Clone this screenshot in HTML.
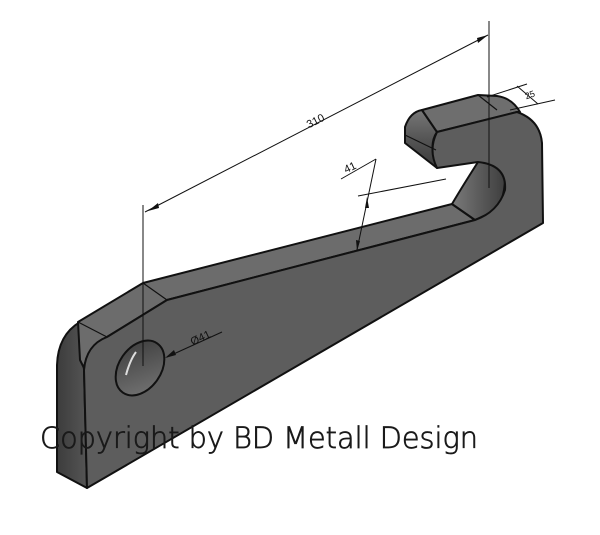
<!DOCTYPE html>
<html><head><meta charset="utf-8"><style>
html,body{margin:0;padding:0;background:#fff;}
svg{display:block;}
</style></head><body>
<svg width="600" height="535" viewBox="0 0 600 535" xmlns="http://www.w3.org/2000/svg">
<defs>
<linearGradient id="endg" x1="0" y1="0" x2="1" y2="0">
<stop offset="0" stop-color="#3c3c3c"/><stop offset="1" stop-color="#555"/></linearGradient>
<linearGradient id="hookend" x1="0" y1="0" x2="0" y2="1">
<stop offset="0" stop-color="#777"/><stop offset="0.5" stop-color="#555"/><stop offset="1" stop-color="#3a3a3a"/></linearGradient>
<linearGradient id="slot" x1="0" y1="0" x2="1" y2="0">
<stop offset="0" stop-color="#7a7a7a"/><stop offset="1" stop-color="#3e3e3e"/></linearGradient>
<linearGradient id="hole" x1="0" y1="0" x2="1" y2="1">
<stop offset="0" stop-color="#3a3a3a"/><stop offset="1" stop-color="#777"/></linearGradient>
</defs>
<g stroke="#111" stroke-width="2" stroke-linejoin="round">
<path d="M57,365 Q58,335 80,322 L84,370 L87,488 L57,472 Z" fill="url(#endg)"/>
<path d="M78,322 L143,283 L452,204 L475,220 L167,300 L107,337 Q88,345 84,368 L80,360 Z" fill="#6c6c6c"/>
<path d="M452,204 Q462,187 478,162 Q500,160 505,177 Q505,205 490,213 L475,220 Z" fill="url(#slot)"/>
<path d="M405,127 Q410,112 422,110 L437,132 Q428,145 437,168 L405,143 Z" fill="url(#hookend)"/>
<path d="M422,110 L478,95 L497,96 Q512,98 520,112 L517,112 L437,132 Z" fill="#6e6e6e"/>
<path d="M84,370 Q86,345 107,337 L167,300 L475,220 Q498,212 505,190 Q507,165 478,162 L437,168 Q428,150 437,132 L517,112 Q540,120 542,143 L543,223 L87,488 Z" fill="#5d5d5d"/>
<path d="M78,322 L107,337 M143,283 L167,300 M452,204 L475,220 M478,95 L497,110 M422,110 L437,132 M405,135 L436,150" fill="none" stroke-width="1.2"/>
<ellipse cx="140" cy="368" rx="21" ry="30" transform="rotate(35 140 368)" fill="url(#hole)"/>
</g>
<path d="M126,375 Q130,360 136,352" stroke="#ddd" stroke-width="2" fill="none"/>
<g stroke="#111" stroke-width="1" fill="none">
<line x1="143" y1="205" x2="143" y2="366"/>
<line x1="489" y1="21" x2="489" y2="188"/>
<line x1="145" y1="212" x2="488" y2="35"/>
<line x1="341" y1="179" x2="376" y2="159"/>
<line x1="376" y1="159" x2="357" y2="250"/>
<line x1="358" y1="196" x2="446" y2="179"/>
<line x1="487" y1="97" x2="527" y2="84"/>
<line x1="510" y1="110" x2="555" y2="100"/>
<line x1="517" y1="86" x2="538" y2="104"/>
<line x1="222" y1="332" x2="167" y2="357"/>
</g>
<g fill="#111">
<path d="M148,211 L158,203 L159,208 Z"/>
<path d="M488,35 L478,43 L477,38 Z"/>
<path d="M357,251 L356,240 L360,241 Z"/>
<path d="M367,197 L365,208 L369,208 Z"/>
<path d="M165,358 L174,350 L176,355 Z"/>
</g>
<g font-family="Liberation Sans, sans-serif" fill="#111" font-size="11">
<text x="305" y="124" transform="rotate(-27 316 118)">310</text>
<text x="343" y="170" transform="rotate(-25 352 165)">41</text>
<text x="524" y="97" font-size="9" transform="rotate(-20 532 92)">25</text>
<text x="188" y="339" transform="rotate(-25 205 332)">Ø41</text>
</g>
<text x="40" y="448" font-family="DejaVu Sans, Liberation Sans, sans-serif" font-weight="200" font-size="29" fill="#1a1a1a" stroke="#1a1a1a" stroke-width="0.7" textLength="438" lengthAdjust="spacingAndGlyphs">Copyright by BD Metall Design</text>
</svg>
</body></html>
